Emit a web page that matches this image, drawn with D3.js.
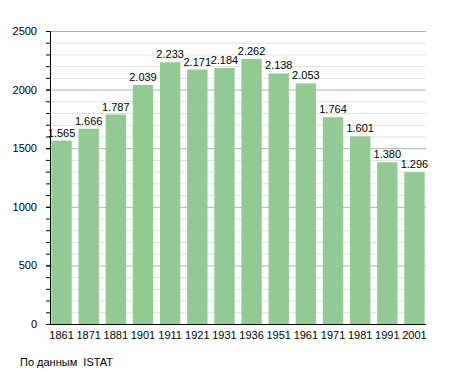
<!DOCTYPE html>
<html>
<head>
<meta charset="utf-8">
<script src="https://cdn.jsdelivr.net/npm/d3@7"></script>
<style>
  body { margin: 0; background: #fff; }
  text { font-family: "Liberation Sans", Arial, sans-serif; fill: #000; }
</style>
</head>
<body>
<div id="chart"></div>
<script>
// data
const years = ["1861", "1871", "1881", "1901", "1911", "1921", "1931", "1936", "1951", "1961", "1971", "1981", "1991", "2001"];
const population = [1565, 1666, 1787, 2039, 2233, 2171, 2184, 2262, 2138, 2053, 1764, 1601, 1380, 1296];
const labels = ["1.565", "1.666", "1.787", "2.039", "2.233", "2.171", "2.184", "2.262", "2.138", "2.053", "1.764", "1.601", "1.380", "1.296"];
const majorTicks = [0, 500, 1000, 1500, 2000, 2500];

const width = 455, height = 373;
const margin = { top: 31, right: 29, bottom: 49, left: 50 };
const innerW = width - margin.left - margin.right;
const innerH = height - margin.top - margin.bottom;

const svg = d3.select("#chart").append("svg")
  .attr("width", width)
  .attr("height", height);

const g = svg.append("g")
  .attr("transform", "translate(" + margin.left + "," + margin.top + ")");

const x = d3.scaleBand().domain(years).range([0, innerW])
  .paddingInner(0.25).paddingOuter(0.05);
const y = d3.scaleLinear().domain([0, 2500]).range([innerH, 0]);

// minor grid every 100
const minor = d3.range(100, 2500, 100).filter(v => v % 500 !== 0);
g.append("g").selectAll("line").data(minor).join("line")
  .attr("x1", 0).attr("x2", innerW)
  .attr("y1", d => y(d) + 0.5).attr("y2", d => y(d) + 0.5)
  .attr("stroke", "#e2e2e2");

// major grid every 500
g.append("g").selectAll("line").data(majorTicks.slice(1)).join("line")
  .attr("x1", 0).attr("x2", innerW)
  .attr("y1", d => y(d) + 0.5).attr("y2", d => y(d) + 0.5)
  .attr("stroke", "#b0b0b0");

// bars
g.append("g").selectAll("rect").data(population).join("rect")
  .attr("x", (d, i) => x(years[i]))
  .attr("y", d => y(d))
  .attr("width", x.bandwidth())
  .attr("height", d => innerH - y(d))
  .attr("fill", "#93c993");

// value labels
g.append("g").selectAll("text").data(population).join("text")
  .attr("x", (d, i) => x(years[i]) + x.bandwidth() / 2)
  .attr("y", d => y(d) - 4)
  .attr("text-anchor", "middle")
  .attr("font-size", 11)
  .text((d, i) => labels[i]);

// y axis with minor ticks
const yMinor = g.append("g")
  .call(d3.axisLeft(y).tickValues(d3.range(0, 2501, 100)).tickSize(4).tickFormat(""));
yMinor.select(".domain").remove();

const yAxis = g.append("g")
  .call(d3.axisLeft(y).tickValues(majorTicks).tickSize(4).tickPadding(9).tickFormat(d3.format("d")));
yAxis.select(".domain").attr("stroke", "#000");
yAxis.selectAll("text").attr("font-size", 11).attr("font-family", "Liberation Sans, Arial, sans-serif");

// x axis
const xAxis = g.append("g")
  .attr("transform", "translate(0," + innerH + ")")
  .call(d3.axisBottom(x).tickSize(0).tickPadding(7));
xAxis.select(".domain").attr("d", "M0,0.5H" + innerW).attr("stroke", "#000");
xAxis.selectAll("text").attr("font-size", 11).attr("font-family", "Liberation Sans, Arial, sans-serif");

// source note
svg.append("text")
  .attr("x", 20)
  .attr("y", 366)
  .attr("font-size", 11)
  .style("white-space", "pre")
  .text("По данным  ISTAT");
</script>
</body>
</html>
